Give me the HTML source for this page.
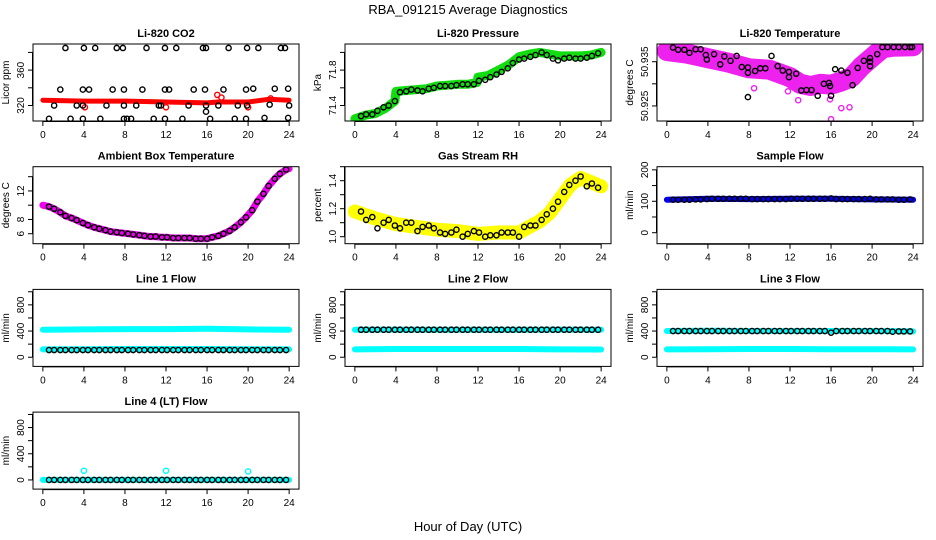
<!DOCTYPE html>
<html><head><meta charset="utf-8"><style>
html,body{margin:0;padding:0;background:#fff;}
svg{display:block;font-family:"Liberation Sans",sans-serif;}
</style></head><body>
<svg id="chart" width="936" height="540" viewBox="0 0 936 540" xmlns="http://www.w3.org/2000/svg">
<rect width="936" height="540" fill="#fff"/>
<text x="468" y="14" text-anchor="middle" font-size="13">RBA_091215  Average Diagnostics</text>
<text x="468" y="531" text-anchor="middle" font-size="13">Hour of Day (UTC)</text>
</svg>
<script>
const hrs = [0.6,1.1,1.7,2.2,2.8,3.3,3.9,4.4,5.0,5.5,6.1,6.6,7.2,7.7,8.3,8.8,9.4,9.9,10.5,11.0,11.6,12.1,12.7,13.2,13.8,14.3,14.9,15.4,16.0,16.5,17.1,17.6,18.2,18.7,19.3,19.8,20.4,20.9,21.5,22.0,22.6,23.1,23.7];
const xTicks = [0,4,8,12,16,20,24];
// CO2
const co2Hrs = [2.2,4,5.1,7.2,7.8,10.1,11.9,13,15.6,15.9,18.1,19.9,21,23.2,23.6, 1.7,3.9,4.5,6.8,7.9,9.7,11.9,12.3,14.7,15.8,17.6,19.8,20.5,22.6,23.9, 1.1,3.3,3.9,6.2,7.9,9.1,11.3,11.5,14.2,15.9,17.1,19,19.9,22.1,24, 15.9, 0.6,2.7,3.9,5.6,7.9,8.2,8.6,10.8,11.9,13.6,16.3,18.7,19.8,21.6,23.9];
const co2Vals = [385,385,385,385,385,385,385,385,385,385,385,385,385,385,385, 338,338,338,338,338,338,338,338,338,338,338,338,339,339,339, 320,320,320,320,320,320,320,320,320,320,320,320,320,321,320, 313, 305,305,305,305,305,305,305,305,305,305,305,305,305,306,306];
const co2BandHrs = [0,4,8,12,16,17,20,22,24];
const co2BandVals = [326,325,325,324,323,324,324,327,326];
const co2RedHrs = [4.1,12,17,17.4,20,22.2];
const co2RedVals = [318,318,332,329,318,328];
// Pressure
const presVals = [71.28,71.30,71.30,71.34,71.38,71.40,71.45,71.55,71.56,71.58,71.57,71.56,71.59,71.60,71.62,71.62,71.62,71.63,71.64,71.64,71.64,71.68,71.69,71.72,71.75,71.78,71.82,71.88,71.92,71.93,71.95,71.97,72.00,71.97,71.93,71.91,71.93,71.94,71.93,71.93,71.94,71.96,71.99];
const presBandHrs = [0,1,2,3,3.9,4.0,5,6,7,8,9,10,11,11.9,12.0,13,14,15,16,17,18,19,20,21,22,23,24];
const presBandVals = [71.25,71.29,71.31,71.37,71.45,71.56,71.57,71.58,71.59,71.62,71.63,71.64,71.64,71.66,71.72,71.74,71.80,71.86,71.95,71.98,72.0,71.98,71.96,71.96,71.96,71.97,72.0];
// Li-820 temperature
const tempHrs = [0.6,1.1,1.7,2.2,2.8,3.3,3.8,3.9,4.6,5.2,5.6,6.2,6.8,7.3,7.9,7.9,7.9,8.6,9.1,9.6,10.2,10.8,11.3,11.9,11.9,12.6,13.1,13.6,14.1,14.7,15.3,15.8,15.9,16.0,16.4,17.0,17.6,18.1,18.6,19.2,19.8,19.8,19.8,20.5,21.0,21.5,22.1,22.6,23.2,23.7,23.9];
const tempVals = [50.9382,50.9377,50.9377,50.9370,50.9378,50.9378,50.9365,50.9355,50.9367,50.9344,50.9362,50.9352,50.9363,50.9338,50.9337,50.9325,50.9270,50.9329,50.9335,50.9335,50.9363,50.9340,50.9330,50.9327,50.9315,50.9323,50.9285,50.9286,50.9286,50.9273,50.9300,50.9302,50.9295,50.9273,50.9333,50.9330,50.9325,50.9297,50.9336,50.9352,50.9350,50.9358,50.9340,50.9367,50.9383,50.9383,50.9383,50.9383,50.9383,50.9383,50.9383];
const tempBandHrs = [0,2,4,6,8,10,12,13,14,15,16,17,18,19,20,21,22,24];
const tempBandVals = [50.9374,50.9368,50.9358,50.9348,50.9335,50.9332,50.9315,50.9300,50.9295,50.9300,50.9298,50.9305,50.9315,50.9340,50.9360,50.9380,50.9384,50.9385];
const tempPinkHrs = [16,17,17.8,12.8,15.9,8.5,11.8];
const tempPinkVals = [50.9220,50.9245,50.9247,50.9263,50.9265,50.9290,50.9283];
// Ambient
const ambVals = [9.8,9.5,9.0,8.5,8.2,7.9,7.5,7.2,6.9,6.7,6.5,6.3,6.2,6.1,6.0,5.9,5.8,5.7,5.6,5.6,5.5,5.5,5.4,5.4,5.4,5.4,5.3,5.3,5.3,5.5,5.7,6.0,6.4,6.9,7.6,8.3,9.3,10.5,11.6,12.7,13.7,14.4,15.0];
const ambBandHrs = [0,0.6,1.1,1.7,2.2,2.8,3.3,3.9,4.4,5.0,5.5,6.1,6.6,7.2,7.7,8.3,8.8,9.4,9.9,10.5,11.0,11.6,12.1,12.7,13.2,13.8,14.3,14.9,15.4,16.0,16.5,17.1,17.6,18.2,18.7,19.3,19.8,20.4,20.9,21.5,22.0,22.6,23.1,23.7,24];
const ambBandVals = [10.0,9.8,9.5,9.0,8.5,8.2,7.9,7.5,7.2,6.9,6.7,6.5,6.3,6.2,6.1,6.0,5.9,5.8,5.7,5.6,5.6,5.5,5.5,5.4,5.4,5.4,5.4,5.3,5.3,5.3,5.5,5.7,6.0,6.4,6.9,7.6,8.3,9.3,10.5,11.6,12.7,13.7,14.4,15.0,15.1];
// RH
const rhVals = [1.18,1.12,1.14,1.06,1.10,1.12,1.08,1.06,1.10,1.10,1.04,1.07,1.08,1.06,1.03,1.02,1.03,1.05,1.00,1.02,1.04,1.03,1.00,1.01,1.01,1.03,1.03,1.03,1.00,1.07,1.08,1.08,1.12,1.16,1.20,1.25,1.32,1.37,1.40,1.43,1.36,1.38,1.35];
const rhBandHrs = [0,2,4,6,8,10,12,14,16,17,18,19,20,21,22,23,24];
const rhBandVals = [1.18,1.13,1.09,1.07,1.05,1.04,1.02,1.03,1.03,1.07,1.11,1.17,1.27,1.37,1.42,1.39,1.36];
// Flows
const sampleVals = [105,105,105,105,106,106,107,108,108,108,108,108,108,108,107,107,107,107,107,107,107,108,108,108,108,108,108,108,109,107,107,107,107,107,107,108,106,106,106,106,105,105,106];
const sampleBandHrs = [0,4,8,12,16,20,24];
const sampleBandVals = [105,108,107,108,108,106,105];
const line1Vals = [110,110,110,110,110,110,110,110,110,110,110,110,110,110,110,110,110,110,110,110,110,110,110,110,110,110,110,110,110,110,110,110,110,110,110,110,110,110,110,110,110,110,110];
const line1HiHrs = [0,4,8,12,16,20,24];
const line1HiVals = [420,425,430,430,435,425,420];
const line1LoVals = [120,122,125,125,125,122,120];
const line2Vals = [420,420,420,420,420,420,420,420,420,420,420,420,420,420,420,420,420,420,420,420,420,420,420,420,420,420,420,420,420,420,420,420,420,420,420,420,420,420,420,420,420,420,420];
const line2HiVals = [420,422,420,420,420,422,420];
const line2LoVals = [120,125,125,125,125,120,118];
const line3Vals = [400,400,400,400,400,400,400,400,400,400,400,400,400,400,400,400,400,400,400,400,400,400,400,400,400,400,400,400,375,400,400,400,400,400,400,400,400,400,400,390,395,395,395];
const line3HiVals = [400,405,400,400,400,400,395];
const line3LoVals = [120,122,125,125,122,122,120];
const line4Vals = [0,0,0,0,0,0,0,0,0,0,0,0,0,0,0,0,0,0,0,0,0,0,0,0,0,0,0,0,0,0,0,0,0,0,0,0,0,0,0,0,0,0,0];
const line4OutHrs = [4,12,20];
const line4OutVals = [140,140,130];

const NS = "http://www.w3.org/2000/svg";
const svg = document.getElementById('chart');
function mk(tag, attrs, parent) {
  const e = document.createElementNS(NS, tag);
  for (const k in attrs) e.setAttribute(k, attrs[k]);
  (parent || svg).appendChild(e);
  return e;
}
function panel(col, row, title, ylab, ymin, ymax, yTicks, yLabels, key) {
  const L = 33 + 312 * col, W = 266, T = 44 + 122.7 * row, H = 77;
  const g = mk('g', {});
  
  
  const xs = h => L + (h + 0.96) / 25.92 * W;
  const ys = v => T + H - (v - ymin) / (ymax - ymin) * H;
  const t = mk('text', {x: L + W / 2, y: T - 7, 'text-anchor': 'middle', 'font-size': 11, 'font-weight': 'bold'}, g);
  t.textContent = title;
  
  
  const yl = mk('text', {x: 0, y: 0, 'text-anchor': 'middle', 'font-size': 10, transform: `translate(${L - 24},${T + H / 2}) rotate(-90)`}, g);
  yl.textContent = ylab;
  
  
  // x axis
  const xa = mk('g', {}, g);
  
  
  mk('line', {x1: xs(0), x2: xs(24), y1: T + H + 0.5, y2: T + H + 0.5, stroke: '#000'}, xa);
  xTicks.forEach(v => {
    mk('line', {x1: xs(v), x2: xs(v), y1: T + H, y2: T + H + 5, stroke: '#000'}, xa);
    const tx = mk('text', {x: xs(v), y: T + H + 17, 'text-anchor': 'middle', 'font-size': 10}, xa);
    tx.textContent = v;
  });
  // y axis
  const ya = mk('g', {}, g);
  
  
  mk('line', {x1: L - 0.5, x2: L - 0.5, y1: ys(yTicks[0]), y2: ys(yTicks[yTicks.length - 1]), stroke: '#000'}, ya);
  yTicks.forEach((v, i) => {
    mk('line', {x1: L - 5, x2: L, y1: ys(v), y2: ys(v), stroke: '#000'}, ya);
    if (yLabels[i] !== '') {
      const ty = mk('text', {x: 0, y: 0, 'text-anchor': 'middle', 'font-size': 10, transform: `translate(${L - 9},${ys(v)}) rotate(-90)`}, ya);
      ty.textContent = yLabels[i];
    }
  });
  const clipId = 'clip-' + key;
  const cp = mk('clipPath', {id: clipId}, g);
  mk('rect', {x: L, y: T, width: W, height: H}, cp);
  const plot = mk('g', {'clip-path': `url(#${clipId})`}, g);
  mk('rect', {x: L, y: T, width: W, height: H, fill: 'none', stroke: '#000'}, g);
  return {xs, ys, plot};
}
function band(p, hs, vs, color, width, name) {
  const d = hs.map((h, i) => (i ? 'L' : 'M') + p.xs(h).toFixed(1) + ',' + p.ys(vs[i]).toFixed(1)).join('');
  const e = mk('path', {d, fill: 'none', stroke: color, 'stroke-width': width, 'stroke-linejoin': 'round', 'stroke-linecap': 'round'}, p.plot);
  
  
}
function pts(p, hs, vs, color, name, r) {
  const g = mk('g', {}, p.plot);
  
  
  hs.forEach((h, i) => {
    mk('circle', {cx: p.xs(h), cy: p.ys(vs[i]), r: r || 2.6, fill: 'none', stroke: color, 'stroke-width': 1.4}, g);
  });
}
// Row 1
let p = panel(0, 0, 'Li-820 CO2', 'Licor ppm', 302.5, 389.5, [320,340,360,380], ['320','','360',''], 'co2');
band(p, co2BandHrs, co2BandVals, '#ff0000', 5, 'co2-red-band');
pts(p, co2RedHrs, co2RedVals, '#ff0000', 'co2-red-points');
pts(p, co2Hrs, co2Vals, '#000', 'co2-hourly-points');
p = panel(1, 0, 'Li-820 Pressure', 'kPa', 71.225, 72.095, [71.4,71.6,71.8,72.0], ['71.4','','71.8',''], 'pressure');
band(p, presBandHrs, presBandVals, '#11dd11', 9, 'pressure-green-band');
pts(p, hrs, presVals, '#000', 'pressure-hourly-points');
p = panel(2, 0, 'Li-820 Temperature', 'degrees C', 50.9216, 50.9390, [50.925,50.930,50.935], ['50.925','','50.935'], 'li820-temp');
band(p, tempBandHrs, tempBandVals, '#ee22ee', 20, 'li820-temp-magenta-band');
pts(p, tempPinkHrs, tempPinkVals, '#ee22ee', 'li820-temp-magenta-points');
pts(p, tempHrs, tempVals, '#000', 'li820-temp-hourly-points');
// Row 2
p = panel(0, 1, 'Ambient Box Temperature', 'degrees C', 4.6, 15.4, [6,8,10,12,14], ['6','8','','12',''], 'ambient');
band(p, ambBandHrs, ambBandVals, '#ee00ee', 7, 'ambient-magenta-band');
pts(p, hrs, ambVals, '#000', 'ambient-hourly-points');
p = panel(1, 1, 'Gas Stream RH', 'percent', 0.95, 1.5, [1.0,1.1,1.2,1.3,1.4,1.5], ['1.0','','1.2','','1.4',''], 'rh');
band(p, rhBandHrs, rhBandVals, '#ffff00', 14, 'rh-yellow-band');
pts(p, hrs, rhVals, '#000', 'rh-hourly-points');
p = panel(2, 1, 'Sample Flow', 'ml/min', -35, 210, [0,50,100,150,200], ['0','','100','','200'], 'sample-flow');
band(p, sampleBandHrs, sampleBandVals, '#0000ee', 6, 'sample-flow-blue-band');
pts(p, hrs, sampleVals, '#000', 'sample-flow-hourly-points');
// Row 3 & 4
const fT = [0,200,400,600,800,1000], fL = ['0','','400','','800',''];
p = panel(0, 2, 'Line 1 Flow', 'ml/min', -140, 1036, fT, fL, 'line1');
band(p, line1HiHrs, line1HiVals, '#00ffff', 6, 'line1-cyan-high');
band(p, line1HiHrs, line1LoVals, '#00ffff', 6, 'line1-cyan-low');
pts(p, hrs, line1Vals, '#000', 'line1-hourly-points');
p = panel(1, 2, 'Line 2 Flow', 'ml/min', -140, 1036, fT, fL, 'line2');
band(p, line1HiHrs, line2HiVals, '#00ffff', 6, 'line2-cyan-high');
band(p, line1HiHrs, line2LoVals, '#00ffff', 6, 'line2-cyan-low');
pts(p, hrs, line2Vals, '#000', 'line2-hourly-points');
p = panel(2, 2, 'Line 3 Flow', 'ml/min', -140, 1036, fT, fL, 'line3');
band(p, line1HiHrs, line3HiVals, '#00ffff', 6, 'line3-cyan-high');
band(p, line1HiHrs, line3LoVals, '#00ffff', 6, 'line3-cyan-low');
pts(p, hrs, line3Vals, '#000', 'line3-hourly-points');
p = panel(0, 3, 'Line 4 (LT) Flow', 'ml/min', -140, 1036, fT, fL, 'line4');
band(p, [0,24], [0,0], '#00ffff', 6, 'line4-cyan-band');
pts(p, line4OutHrs, line4OutVals, '#00ffff', 'line4-cyan-outliers');
pts(p, hrs, line4Vals, '#000', 'line4-hourly-points');
</script>
</body></html>
